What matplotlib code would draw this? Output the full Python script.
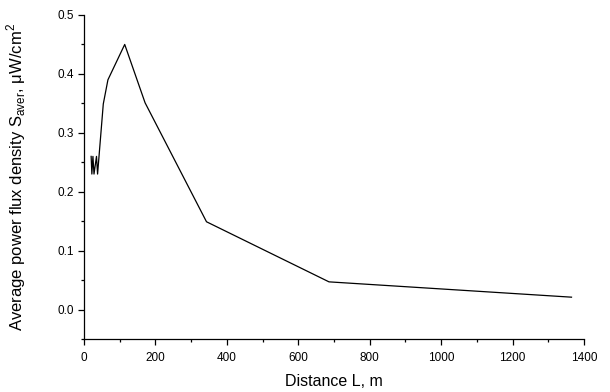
import numpy as np
import matplotlib.pyplot as plt
from matplotlib.ticker import MultipleLocator

plt.rcParams['font.family'] = ['Liberation Sans', 'DejaVu Sans']
plt.rcParams['mathtext.fontset'] = 'custom'
plt.rcParams['mathtext.rm'] = 'Liberation Sans'

# distance along the path, m
distance = [20, 22, 25, 28, 35, 38, 54, 67, 114, 171, 343, 686, 1365]
# average power flux density, uW/cm^2
s_aver = [0.26, 0.23, 0.26, 0.23, 0.26, 0.23, 0.349, 0.39, 0.45, 0.351, 0.149, 0.047, 0.021]

fig = plt.figure(figsize=(6.1, 3.92), dpi=100)
ax = fig.add_axes([84 / 610, 1 - 339 / 392, 500 / 610, 324 / 392])

ax.plot(distance, s_aver, color='black', linewidth=0.9)

ax.set_xlim(0, 1400)
ax.set_ylim(-0.05, 0.5)
ax.xaxis.set_major_locator(MultipleLocator(200))
ax.xaxis.set_minor_locator(MultipleLocator(100))
ax.yaxis.set_major_locator(MultipleLocator(0.1))
ax.yaxis.set_minor_locator(MultipleLocator(0.05))
ax.yaxis.set_major_formatter(plt.FuncFormatter(lambda v, p: '%.1f' % v))

for side in ['top', 'right']:
    ax.spines[side].set_visible(False)
for side in ['left', 'bottom']:
    ax.spines[side].set_linewidth(0.9)

ax.tick_params(which='major', direction='out', length=4.5, width=0.9, labelsize=8.5, pad=3)
ax.tick_params(axis='x', which='major', pad=5)
ax.tick_params(which='minor', direction='out', length=2.5, width=0.9)

ax.set_xlabel('Distance L, m', fontsize=11.5, labelpad=7)
ax.set_ylabel(r'Average power flux density S$_{\mathregular{aver}}$, $\mathregular{\mu}$W/cm$^{\mathregular{2}}$',
              fontsize=12, labelpad=21)

fig.savefig('out.png', dpi=100)
